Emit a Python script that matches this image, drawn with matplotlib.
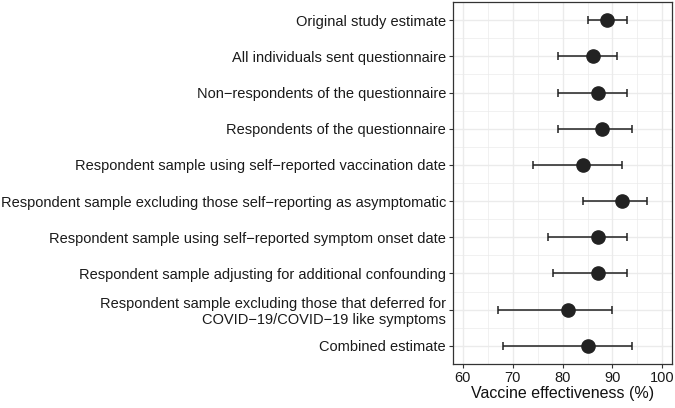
import numpy as np
import matplotlib.pyplot as plt
from matplotlib.ticker import MultipleLocator, FixedLocator

plt.rcParams['font.family'] = ['Liberation Sans', 'DejaVu Sans']

labels = [
    "Original study estimate",
    "All individuals sent questionnaire",
    "Non\u2212respondents of the questionnaire",
    "Respondents of the questionnaire",
    "Respondent sample using self\u2212reported vaccination date",
    "Respondent sample excluding those self\u2212reporting as asymptomatic",
    "Respondent sample using self\u2212reported symptom onset date",
    "Respondent sample adjusting for additional confounding",
    "Respondent sample excluding those that deferred for\nCOVID\u221219/COVID\u221219 like symptoms",
    "Combined estimate",
]
estimate = [89, 86, 87, 88, 84, 92, 87, 87, 81, 85]
lower = [85, 79, 79, 79, 74, 84, 77, 78, 67, 68]
upper = [93, 91, 93, 94, 92, 97, 93, 93, 90, 94]

est = np.array(estimate)
lo = np.array(lower)
hi = np.array(upper)
ypos = np.arange(len(labels), 0, -1)

fig = plt.figure(figsize=(6.75, 4.08), dpi=100)
ax = fig.add_axes([0.671, 0.108, 0.325, 0.887])

ax.errorbar(est, ypos, xerr=[est - lo, hi - est], fmt='none',
            ecolor='#222222', elinewidth=1.1, capsize=3.2, capthick=1.1, zorder=3)
ax.plot(est, ypos, 'o', color='#222222', markersize=9.5, zorder=4)

ax.set_xlim(58, 102)
ax.set_ylim(0.5, len(labels) + 0.5)
ax.xaxis.set_major_locator(MultipleLocator(10))
ax.xaxis.set_minor_locator(MultipleLocator(5))
ax.yaxis.set_major_locator(FixedLocator(ypos))
ax.yaxis.set_minor_locator(FixedLocator(np.arange(1.5, len(labels), 1)))
ax.set_yticklabels(labels, linespacing=1.15)

ax.grid(which='major', color='#ebebeb', linewidth=1.0, zorder=0)
ax.grid(which='minor', color='#ebebeb', linewidth=0.5, zorder=0)
ax.set_axisbelow(True)

for s in ax.spines.values():
    s.set_color('#333333')
    s.set_linewidth(0.9)

ax.tick_params(which='major', length=3, width=0.8, color='#333333',
               labelcolor='#1a1a1a', labelsize=10.5, pad=2)
ax.tick_params(which='minor', length=0)
ax.set_xlabel("Vaccine effectiveness (%)", fontsize=11.5, color='#111111', labelpad=1)

fig.savefig('out.png', dpi=100)
